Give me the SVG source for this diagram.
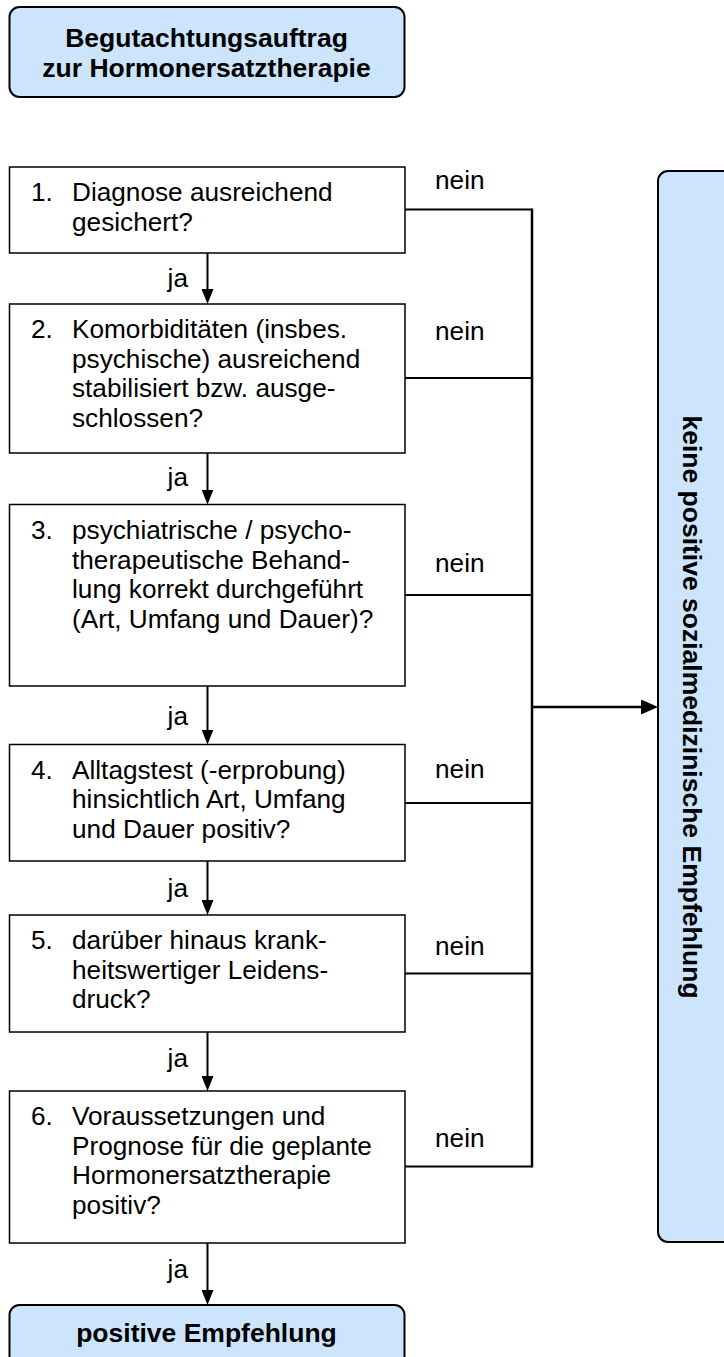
<svg xmlns="http://www.w3.org/2000/svg" width="724" height="1357" viewBox="0 0 724 1357">
<style>
text{font-family:"Liberation Sans",Arial,sans-serif;font-size:26.2px;fill:#000}
.b{font-weight:bold;font-size:26.5px}
.box{fill:#fff;stroke:#000;stroke-width:1.5}
.term{fill:#cce5fc;stroke:#000;stroke-width:2}
.ln{fill:none;stroke:#000;stroke-width:2}
.vl{fill:none;stroke:#000;stroke-width:2.5}
.ja{text-anchor:end}
.c{text-anchor:middle}
</style>
<defs>
<marker id="ah" markerUnits="userSpaceOnUse" markerWidth="15" markerHeight="12" viewBox="0 0 15 12" refX="7" refY="6" orient="auto"><path d="M0,0 L15,6 L0,12 z" fill="#000"/></marker>
<marker id="ah2" markerUnits="userSpaceOnUse" markerWidth="17" markerHeight="15" viewBox="0 0 17 15" refX="9" refY="7.5" orient="auto"><path d="M0,0 L17,7.5 L0,15 z" fill="#000"/></marker>
</defs>
<g id="start">
<rect class="term" x="9.5" y="7" width="395" height="90" rx="10"/>
<text class="b c" x="206.5" y="47">Begutachtungsauftrag</text>
<text class="b c" x="206.5" y="77">zur Hormonersatztherapie</text>
</g>
<g id="q1">
<rect class="box" x="9.5" y="167" width="395.5" height="86"/>
<text x="31" y="201">1.</text>
<text x="72" y="201">Diagnose ausreichend</text>
<text x="72" y="230.5">gesichert?</text>
</g>
<g id="q2">
<rect class="box" x="9.5" y="304" width="395.5" height="149"/>
<text x="31" y="338">2.</text>
<text x="72" y="338">Komorbiditäten (insbes.</text>
<text x="72" y="367.5">psychische) ausreichend</text>
<text x="72" y="397">stabilisiert bzw. ausge-</text>
<text x="72" y="426.5">schlossen?</text>
</g>
<g id="q3">
<rect class="box" x="9.5" y="504.5" width="395.5" height="181.5"/>
<text x="31" y="539">3.</text>
<text x="72" y="539">psychiatrische / psycho-</text>
<text x="72" y="568.5">therapeutische Behand-</text>
<text x="72" y="598">lung korrekt durchgeführt</text>
<text x="72" y="627.5">(Art, Umfang und Dauer)?</text>
</g>
<g id="q4">
<rect class="box" x="9.5" y="744.5" width="395.5" height="116.5"/>
<text x="31" y="778.5">4.</text>
<text x="72" y="778.5">Alltagstest (-erprobung)</text>
<text x="72" y="808">hinsichtlich Art, Umfang</text>
<text x="72" y="837.5">und Dauer positiv?</text>
</g>
<g id="q5">
<rect class="box" x="9.5" y="915" width="395.5" height="117"/>
<text x="31" y="949">5.</text>
<text x="72" y="949">darüber hinaus krank-</text>
<text x="72" y="978.5">heitswertiger Leidens-</text>
<text x="72" y="1008">druck?</text>
</g>
<g id="q6">
<rect class="box" x="9.5" y="1091" width="395.5" height="152"/>
<text x="31" y="1125">6.</text>
<text x="72" y="1125">Voraussetzungen und</text>
<text x="72" y="1154.5">Prognose für die geplante</text>
<text x="72" y="1184">Hormonersatztherapie</text>
<text x="72" y="1213.5">positiv?</text>
</g>
<g id="positive">
<rect class="term" x="9.5" y="1305" width="395" height="80" rx="10"/>
<text class="b c" x="206.5" y="1342">positive Empfehlung</text>
</g>
<g id="negative">
<rect class="term" x="658" y="171" width="90" height="1071" rx="10"/>
<text class="b c" transform="translate(683,707) rotate(90)" x="0" y="0">keine positive sozialmedizinische Empfehlung</text>
</g>
<g id="connectors">
<path class="ln" d="M207.5,253 V296" marker-end="url(#ah)"/>
<path class="ln" d="M207.5,453 V496.5" marker-end="url(#ah)"/>
<path class="ln" d="M207.5,686 V736.5" marker-end="url(#ah)"/>
<path class="ln" d="M207.5,861 V907" marker-end="url(#ah)"/>
<path class="ln" d="M207.5,1032 V1083" marker-end="url(#ah)"/>
<path class="ln" d="M207.5,1243 V1297" marker-end="url(#ah)"/>
<path class="ln" d="M405,209.5 H532"/>
<path class="ln" d="M405,378 H532"/>
<path class="ln" d="M405,595 H532"/>
<path class="ln" d="M405,803 H532"/>
<path class="ln" d="M405,973.5 H532"/>
<path class="ln" d="M405,1166.5 H532"/>
<path class="vl" d="M532,208.5 V1167.5"/>
<path class="vl" d="M532,707 H650" marker-end="url(#ah2)"/>
<text x="435" y="189">nein</text>
<text x="435" y="340">nein</text>
<text x="435" y="572">nein</text>
<text x="435" y="778">nein</text>
<text x="435" y="955">nein</text>
<text x="435" y="1147">nein</text>
<text class="ja" x="188" y="287">ja</text>
<text class="ja" x="188" y="486">ja</text>
<text class="ja" x="188" y="725">ja</text>
<text class="ja" x="188" y="897">ja</text>
<text class="ja" x="188" y="1067">ja</text>
<text class="ja" x="188" y="1278">ja</text>
</g>
</svg>
